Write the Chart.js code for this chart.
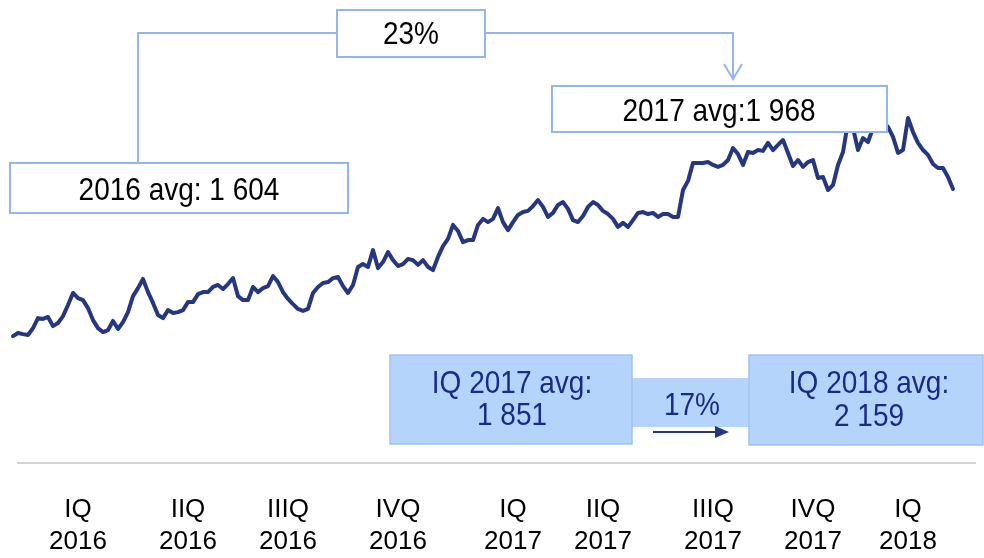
<!DOCTYPE html>
<html>
<head>
<meta charset="utf-8">
<script src="https://cdn.jsdelivr.net/npm/chart.js@4/dist/chart.umd.min.js"></script>
<style>
  html, body { margin: 0; padding: 0; background: #fff; }
  #wrap { width: 984px; height: 558px; }
</style>
</head>
<body>
<div id="wrap"><canvas id="myChart" width="984" height="558"></canvas></div>
<script>
  // price series, one point per step from Jan 2016 to Mar 2018
  const prices = [
    1475, 1464, 1475, 1471, 1468, 1492, 1527, 1524, 1531, 1499,
    1510, 1534, 1573, 1615, 1597, 1590, 1562, 1520, 1492, 1478,
    1485, 1517, 1489, 1513, 1548, 1604, 1632, 1664, 1618, 1580,
    1538, 1527, 1555, 1545, 1548, 1555, 1583, 1583, 1611, 1618,
    1618, 1636, 1643, 1629, 1646, 1667, 1604, 1590, 1590, 1636,
    1618, 1632, 1639, 1674, 1653, 1618, 1594, 1576, 1559, 1552,
    1559, 1615, 1636, 1650, 1653, 1667, 1671, 1639, 1615, 1643,
    1706, 1716, 1706, 1765, 1702, 1723, 1758, 1730, 1709, 1716,
    1734, 1730, 1713, 1730, 1706, 1695, 1741, 1779, 1804, 1853,
    1832, 1793, 1800, 1800, 1853, 1874, 1863, 1874, 1912, 1863,
    1835, 1863, 1888, 1898, 1902, 1919, 1940, 1916, 1881, 1895,
    1923, 1933, 1909, 1870, 1863, 1884, 1916, 1933, 1923, 1902,
    1891, 1874, 1846, 1860, 1846, 1870, 1895, 1898, 1891, 1895,
    1881, 1891, 1891, 1881, 1881, 1975, 2007, 2070, 2070, 2070,
    2073, 2063, 2056, 2063, 2080, 2122, 2101, 2063, 2108, 2105,
    2115, 2112, 2140, 2115, 2133, 2150, 2105, 2059, 2080, 2056,
    2073, 2080, 2017, 2021, 1975, 1993, 2063, 2108, 2213, 2192,
    2115, 2157, 2143, 2192, 2227, 2213, 2196, 2161, 2105, 2115,
    2227, 2178, 2140, 2115, 2098, 2066, 2052, 2052, 2021, 1979
  ]

  const quarterTicks = [14, 36, 56, 78, 101, 119, 141, 161, 180]
  const quarterLabels = [
    ['IQ', '2016'], ['IIQ', '2016'], ['IIIQ', '2016'], ['IVQ', '2016'],
    ['IQ', '2017'], ['IIQ', '2017'], ['IIIQ', '2017'], ['IVQ', '2017'], ['IQ', '2018']
  ]

  const yearAvg = ['1 604', '1 968']
  const yearChange = '23%'
  const q1Avg = ['1 851', '2 159']
  const q1Change = '17%'

  const lineBlue = '#263780'
  const boxLine = '#93b6ee'
  const boxFill = '#b5d4fb'
  const textNavy = '#1b2a86'

  function stretchText(ctx, txt, x, y, color) {
    ctx.save()
    ctx.fillStyle = color
    ctx.font = '28px "Liberation Sans", Arial, sans-serif'
    ctx.textAlign = 'center'
    ctx.textBaseline = 'middle'
    ctx.translate(x, y)
    ctx.scale(1, 1.12)
    ctx.fillText(txt, 0, 0)
    ctx.restore()
  }

  // boxes and arrows on top of the line
  const notes = {
    id: 'notes',
    afterDatasetsDraw(chart) {
      const ctx = chart.ctx
      ctx.save()

      // year-over-year connector
      ctx.strokeStyle = boxLine
      ctx.lineWidth = 2
      ctx.beginPath()
      ctx.moveTo(138, 165)
      ctx.lineTo(138, 33)
      ctx.lineTo(733, 33)
      ctx.lineTo(733, 78)
      ctx.stroke()
      ctx.beginPath()
      ctx.moveTo(724, 64)
      ctx.lineTo(733, 79)
      ctx.lineTo(742, 64)
      ctx.stroke()

      const whiteBoxes = [
        [337, 10, 148, 47, yearChange, 411, 35],
        [10, 163, 338, 50, '2016 avg: ' + yearAvg[0], 179, 191],
        [552, 86, 335, 46, '2017 avg:' + yearAvg[1], 719, 112]
      ]
      whiteBoxes.forEach(b => {
        ctx.fillStyle = '#fff'
        ctx.fillRect(b[0], b[1], b[2], b[3])
        ctx.strokeStyle = boxLine
        ctx.lineWidth = 2
        ctx.strokeRect(b[0], b[1], b[2], b[3])
        stretchText(ctx, b[4], b[5], b[6], '#000')
      })

      // quarter comparison
      ctx.fillStyle = boxFill
      ctx.fillRect(630, 378, 122, 49)
      ctx.strokeStyle = '#9ec2f2'
      ctx.lineWidth = 1.5
      ctx.fillRect(390, 355, 242, 89)
      ctx.strokeRect(390, 355, 242, 89)
      ctx.fillRect(749, 355, 234, 90)
      ctx.strokeRect(749, 355, 234, 90)

      stretchText(ctx, 'IQ 2017 avg:', 512, 384, textNavy)
      stretchText(ctx, q1Avg[0], 512, 416, textNavy)
      stretchText(ctx, 'IQ 2018 avg:', 869, 384, textNavy)
      stretchText(ctx, q1Avg[1], 869, 417, textNavy)
      stretchText(ctx, q1Change, 692, 406, textNavy)

      ctx.strokeStyle = lineBlue
      ctx.lineWidth = 2
      ctx.beginPath()
      ctx.moveTo(653, 432)
      ctx.lineTo(716, 432)
      ctx.stroke()
      ctx.fillStyle = lineBlue
      ctx.beginPath()
      ctx.moveTo(729, 432)
      ctx.lineTo(715, 426)
      ctx.lineTo(715, 438)
      ctx.closePath()
      ctx.fill()

      ctx.restore()
    }
  }

  const ctx = document.getElementById('myChart')

  new Chart(ctx, {
    type: 'line',
    data: {
      datasets: [{
        data: prices.map((p, i) => ({ x: i, y: p })),
        borderColor: lineBlue,
        borderWidth: 4,
        borderJoinStyle: 'round',
        borderCapStyle: 'round',
        pointRadius: 0,
        tension: 0,
        clip: false
      }]
    },
    options: {
      responsive: false,
      animation: false,
      devicePixelRatio: 1,
      layout: { padding: { left: 18, right: 9, top: 0, bottom: 0 } },
      scales: {
        x: {
          type: 'linear',
          min: 2,
          max: 193.4,
          afterBuildTicks: (scale) => {
            scale.ticks = quarterTicks.map(v => ({ value: v }))
          },
          afterFit: (scale) => { scale.height = 95 },
          grid: { display: false, drawTicks: false },
          border: { color: '#d3d3d3', width: 2 },
          ticks: {
            autoSkip: false,
            maxRotation: 0,
            padding: 31,
            color: '#000',
            font: { family: '"Liberation Sans", Arial, sans-serif', size: 26, lineHeight: 1.23 },
            callback: (v, i) => quarterLabels[i]
          }
        },
        y: { display: false, min: 1020, max: 2640 }
      },
      plugins: {
        legend: { display: false },
        tooltip: { enabled: false }
      }
    },
    plugins: [notes]
  })
</script>
</body>
</html>
